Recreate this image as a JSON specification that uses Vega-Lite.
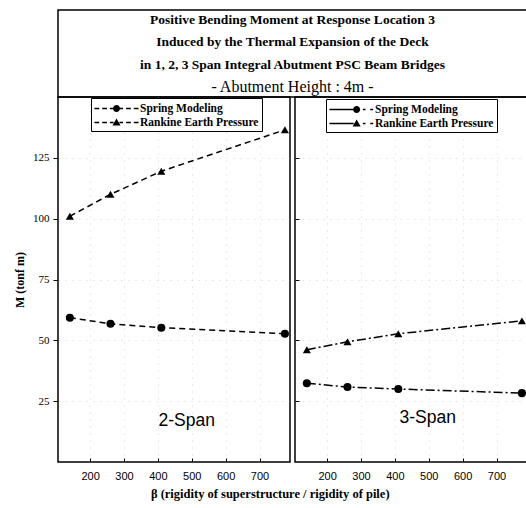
{
  "$schema": "https://vega.github.io/schema/vega-lite/v6.json",
  "background": "white",
  "padding": {"left": 12, "top": 9, "right": 0, "bottom": 4},
  "config": {
    "view": {"stroke": "black", "strokeWidth": 1.5},
    "axis": {"grid": true, "gridColor": "#999", "gridDash": [1, 6], "gridOpacity": 0.4, "domain": false, "tickColor": "black", "labelColor": "black", "titleColor": "black"}
  },
  "datasets": {
    "titles": [
      {"line": 1, "text": "Positive Bending Moment at Response Location 3"},
      {"line": 2, "text": "Induced by the Thermal Expansion of the Deck"},
      {"line": 3, "text": "in 1, 2, 3 Span Integral Abutment PSC Beam Bridges"}
    ],
    "subtitle": [{"line": 4, "text": "- Abutment Height : 4m -"}],
    "two": [
      {"series": "Spring Modeling", "beta": 140, "M": 59.3},
      {"series": "Spring Modeling", "beta": 260, "M": 56.8},
      {"series": "Spring Modeling", "beta": 410, "M": 55.2},
      {"series": "Spring Modeling", "beta": 775, "M": 52.7},
      {"series": "Rankine Earth Pressure", "beta": 140, "M": 101},
      {"series": "Rankine Earth Pressure", "beta": 260, "M": 110},
      {"series": "Rankine Earth Pressure", "beta": 410, "M": 119.5},
      {"series": "Rankine Earth Pressure", "beta": 775, "M": 136.5}
    ],
    "three": [
      {"series": "Spring Modeling", "beta": 140, "M": 32.4},
      {"series": "Spring Modeling", "beta": 260, "M": 30.8},
      {"series": "Spring Modeling", "beta": 410, "M": 30},
      {"series": "Spring Modeling", "beta": 775, "M": 28.3},
      {"series": "Rankine Earth Pressure", "beta": 140, "M": 46.1},
      {"series": "Rankine Earth Pressure", "beta": 260, "M": 49.4},
      {"series": "Rankine Earth Pressure", "beta": 410, "M": 52.7},
      {"series": "Rankine Earth Pressure", "beta": 775, "M": 58}
    ],
    "lab2": [{"beta": 485, "M": 17, "label": "2-Span"}],
    "lab3": [{"beta": 497, "M": 18, "label": "3-Span"}]
  },
  "spacing": 0,
  "bounds": "flush",
  "vconcat": [
    {
      "width": 469,
      "height": 87,
      "layer": [
        {
          "data": {"name": "titles"},
          "mark": {"type": "text", "font": "Liberation Serif", "fontSize": 13.5, "fontWeight": "bold", "color": "black", "baseline": "middle"},
          "encoding": {
            "y": {"field": "line", "type": "ordinal", "scale": {"domain": [1, 2, 3, 4], "type": "point", "padding": 0.45}, "axis": null},
            "text": {"field": "text"}
          }
        },
        {
          "data": {"name": "subtitle"},
          "mark": {"type": "text", "font": "Liberation Serif", "fontSize": 16, "color": "black", "baseline": "middle"},
          "encoding": {
            "y": {"field": "line", "type": "ordinal", "axis": null},
            "text": {"field": "text"}
          }
        }
      ]
    },
    {
      "spacing": 5,
      "bounds": "flush",
      "title": {"text": "β (rigidity of superstructure / rigidity of pile)", "orient": "bottom", "anchor": "middle", "font": "Liberation Serif", "fontSize": 12.5, "fontWeight": "bold", "color": "black", "offset": 6},
      "hconcat": [
        {
          "width": 232,
          "height": 365,
          "data": {"name": "two"},
          "layer": [
            {
              "mark": {"type": "line", "strokeDash": [6, 4], "strokeWidth": 1.5, "color": "black"},
              "encoding": {
                "x": {"field": "beta", "type": "quantitative", "scale": {"domain": [105, 790], "nice": false, "zero": false},
                  "axis": {"values": [200, 300, 400, 500, 600, 700], "tickSize": -4, "labelPadding": 12, "labelFont": "Liberation Sans", "labelFontSize": 11, "title": null}},
                "y": {"field": "M", "type": "quantitative", "scale": {"domain": [0, 150], "nice": false},
                  "axis": {"values": [25, 50, 75, 100, 125], "tickSize": 5, "labelPadding": 4, "labelFont": "Liberation Serif", "labelFontSize": 11, "title": "M (tonf m)", "titleFont": "Liberation Serif", "titleFontSize": 12, "titleFontWeight": "bold", "titlePadding": 6}},
                "detail": {"field": "series"}
              }
            },
            {
              "mark": {"type": "point", "filled": true, "color": "black", "opacity": 1, "size": 65},
              "encoding": {
                "x": {"field": "beta", "type": "quantitative"},
                "y": {"field": "M", "type": "quantitative"},
                "shape": {"field": "series", "type": "nominal", "scale": {"domain": ["Spring Modeling", "Rankine Earth Pressure"], "range": ["circle", "triangle-up"]}, "legend": null}
              }
            },
            {
              "transform": [{"filter": "false"}],
              "mark": {"type": "point", "filled": true, "color": "black", "opacity": 1},
              "encoding": {
                "x": {"field": "beta", "type": "quantitative"},
                "y": {"field": "M", "type": "quantitative"},
                "shape": {"field": "series", "type": "nominal",
                  "scale": {"domain": ["Spring Modeling", "Rankine Earth Pressure"],
                    "range": [
                      "M-3,-0.1H-2.35V0.1H-3Z M-1.95,-0.1H-1.3V0.1H-1.95Z M-0.9,-0.1H-0.4V0.1H-0.9Z M0.4,-0.1H0.9V0.1H0.4Z M1.3,-0.1H1.95V0.1H1.3Z M2.35,-0.1H3V0.1H2.35Z M0.48,0A0.48,0.48 0 1,1 -0.48,0A0.48,0.48 0 1,1 0.48,0Z",
                      "M-3,-0.1H-2.35V0.1H-3Z M-1.95,-0.1H-1.3V0.1H-1.95Z M-0.9,-0.1H-0.4V0.1H-0.9Z M0.4,-0.1H0.9V0.1H0.4Z M1.3,-0.1H1.95V0.1H1.3Z M2.35,-0.1H3V0.1H2.35Z M0,-0.55L0.55,0.4L-0.55,0.4Z"
                    ]},
                  "legend": {"title": null, "orient": "none", "legendX": 33, "legendY": 1, "symbolSize": 216, "symbolOffset": 15, "symbolStrokeWidth": 0, "symbolFillColor": "black", "symbolOpacity": 1, "labelFont": "Liberation Serif", "labelFontWeight": "bold", "labelFontSize": 11.5, "labelColor": "black", "labelOffset": 16, "labelLimit": 200, "strokeColor": "black", "fillColor": "white", "padding": 3, "rowPadding": 1}
                }
              }
            },
            {
              "data": {"name": "lab2"},
              "mark": {"type": "text", "font": "Liberation Sans", "fontSize": 17.5, "color": "black"},
              "encoding": {
                "x": {"field": "beta", "type": "quantitative"},
                "y": {"field": "M", "type": "quantitative"},
                "text": {"field": "label"}
              }
            }
          ],
          "resolve": {"scale": {"shape": "independent"}}
        },
        {
          "width": 232,
          "height": 365,
          "data": {"name": "three"},
          "layer": [
            {
              "mark": {"type": "line", "strokeDash": [9, 3, 2, 3], "strokeWidth": 1.5, "color": "black"},
              "encoding": {
                "x": {"field": "beta", "type": "quantitative", "scale": {"domain": [105, 790], "nice": false, "zero": false},
                  "axis": {"values": [200, 300, 400, 500, 600, 700], "tickSize": -4, "labelPadding": 12, "labelFont": "Liberation Sans", "labelFontSize": 11, "title": null}},
                "y": {"field": "M", "type": "quantitative", "scale": {"domain": [0, 150], "nice": false},
                  "axis": {"values": [25, 50, 75, 100, 125], "tickSize": -4, "labels": false, "title": null}},
                "detail": {"field": "series"}
              }
            },
            {
              "mark": {"type": "point", "filled": true, "color": "black", "opacity": 1, "size": 65},
              "encoding": {
                "x": {"field": "beta", "type": "quantitative"},
                "y": {"field": "M", "type": "quantitative"},
                "shape": {"field": "series", "type": "nominal", "scale": {"domain": ["Spring Modeling", "Rankine Earth Pressure"], "range": ["circle", "triangle-up"]}, "legend": null}
              }
            },
            {
              "transform": [{"filter": "false"}],
              "mark": {"type": "point", "filled": true, "color": "black", "opacity": 1},
              "encoding": {
                "x": {"field": "beta", "type": "quantitative"},
                "y": {"field": "M", "type": "quantitative"},
                "shape": {"field": "series", "type": "nominal",
                  "scale": {"domain": ["Spring Modeling", "Rankine Earth Pressure"],
                    "range": [
                      "M-3,-0.1H0.3V0.1H-3Z M1.18,0A0.48,0.48 0 1,1 0.22,0A0.48,0.48 0 1,1 1.18,0Z M1.55,-0.1H1.9V0.1H1.55Z M2.55,-0.1H2.95V0.1H2.55Z",
                      "M-3,-0.1H0.3V0.1H-3Z M0.7,-0.55L1.25,0.4L0.15,0.4Z M1.55,-0.1H1.9V0.1H1.55Z M2.55,-0.1H2.95V0.1H2.55Z"
                    ]},
                  "legend": {"title": null, "orient": "none", "legendX": 31, "legendY": 2, "symbolSize": 216, "symbolOffset": 15, "symbolStrokeWidth": 0, "symbolFillColor": "black", "symbolOpacity": 1, "labelFont": "Liberation Serif", "labelFontWeight": "bold", "labelFontSize": 11.5, "labelColor": "black", "labelOffset": 16, "labelLimit": 200, "strokeColor": "black", "fillColor": "white", "padding": 3, "rowPadding": 1}
                }
              }
            },
            {
              "data": {"name": "lab3"},
              "mark": {"type": "text", "font": "Liberation Sans", "fontSize": 17.5, "color": "black"},
              "encoding": {
                "x": {"field": "beta", "type": "quantitative"},
                "y": {"field": "M", "type": "quantitative"},
                "text": {"field": "label"}
              }
            }
          ],
          "resolve": {"scale": {"shape": "independent"}}
        }
      ]
    }
  ]
}
